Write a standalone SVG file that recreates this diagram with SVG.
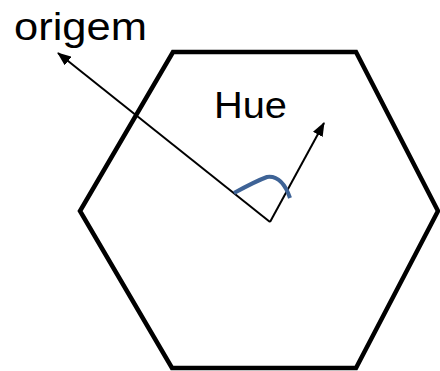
<svg xmlns="http://www.w3.org/2000/svg" width="440" height="371" viewBox="0 0 440 371">
<style>
.hex{fill:none;stroke:#000;stroke-width:4.5;stroke-linejoin:miter}
.arr{fill:none;stroke:#000;stroke-width:2}
.lbl{font-family:"Liberation Sans",Arial,sans-serif;fill:#000}
</style>
<defs>
<marker id="ah" viewBox="0 0 14 11" refX="13" refY="5.5" markerWidth="14" markerHeight="11" markerUnits="userSpaceOnUse" orient="auto">
<path d="M0,0 L14,5.5 L0,11 Z" fill="#000"/>
</marker>
</defs>
<g id="hexagon">
<polygon class="hex" points="173,52 356,52 438,211 356,368 172,368 80,211"/>
</g>
<g id="connectors">
<line class="arr" x1="270" y1="222" x2="58" y2="53" marker-end="url(#ah)"/>
<line class="arr" x1="270" y1="222" x2="324" y2="123" marker-end="url(#ah)"/>
<path d="M234,193 Q256,181 267,177 Q282,175 290,198" fill="none" stroke="#3e6396" stroke-width="4"/>
</g>
<g id="label-origem"><text class="lbl" x="14" y="40" font-size="39" textLength="133" lengthAdjust="spacingAndGlyphs">origem</text></g>
<g id="label-hue"><text class="lbl" x="214" y="118" font-size="37" textLength="73" lengthAdjust="spacingAndGlyphs">Hue</text></g>
</svg>
